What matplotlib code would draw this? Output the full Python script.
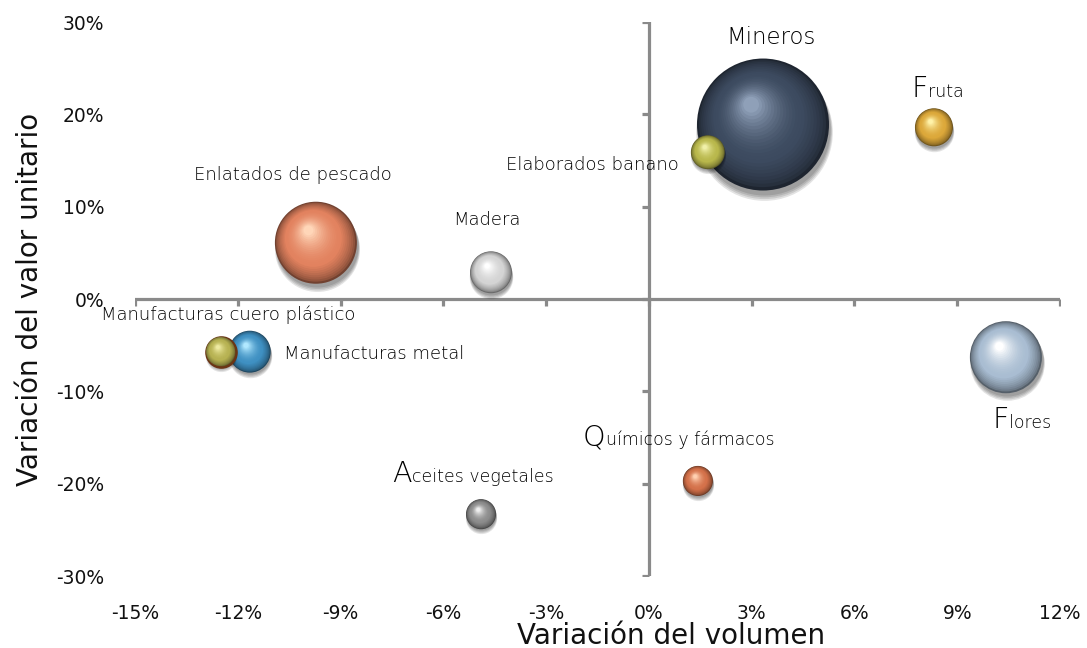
import numpy as np
import matplotlib
matplotlib.use('Agg')
import matplotlib.pyplot as plt
import matplotlib.transforms as mtransforms
from matplotlib.colors import to_rgb
from matplotlib.lines import TICKDOWN, TICKLEFT

plt.rcParams['font.family'] = ['DejaVu Sans']

# data (% change)
names = ['Mineros', 'Elaborados banano', 'Fruta', 'Enlatados de pescado', 'Madera',
         'Manufacturas metal', 'Manufacturas cuero plástico', 'Aceites vegetales',
         'Químicos y fármacos', 'Flores']
vol_var = [3.33, 1.72, 8.32, -9.72, -4.61, -11.65, -12.5, -4.9, 1.43, 10.42]
val_var = [18.9, 15.9, 18.6, 6.1, 2.9, -5.7, -5.7, -23.3, -19.7, -6.3]
bubble_size = [100, 6.6, 8.3, 38.6, 10.1, 10.1, 5.2, 5.2, 5.2, 29.8]

colors = ['#3c4a5f', '#b9b84c', '#dca83a', '#e2825f', '#d4d4d4',
          '#3f90c2', '#b7b252', '#8c8c8c', '#d4714a', '#a9bdd2']
highlights = ['#8fa0b8', '#f0f0a8', '#fff2a8', '#ffd6b8', '#ffffff',
              '#b0e8ff', '#eeeaa0', '#eeeeee', '#ffcfb0', '#ffffff']
rims = [None, None, None, None, None, None, '#6b3515', None, None, None]

# label placement: offset (px), alignment, big first letter
lab_off = [(8, 87), (-29, -13), (-22, 30), (-23, 68), (-4, 52),
           (34, -2), (8, 37), (-89, 32), (-115, 35), (-13, -71)]
lab_ha = ['center', 'right', 'left', 'center', 'center', 'left', 'center', 'left', 'left', 'left']
lab_va = ['center', 'center', 'baseline', 'center', 'center', 'center', 'center', 'baseline', 'baseline', 'baseline']
lab_size = [16.5, 13, 12.5, 13, 13, 13, 13, 12.5, 12.5, 12.5]
big_first = [False, False, True, False, False, False, False, True, True, True]

xticks = [-15, -12, -9, -6, -3, 0, 3, 6, 9, 12]
yticks = [-30, -20, -10, 0, 10, 20, 30]

fig = plt.figure(figsize=(10.87, 6.48), dpi=100)
ax = fig.add_axes([0.1242, 0.111, 0.851, 0.855])
ax.set_xlim(-15, 12)
ax.set_ylim(-30, 30)
for s in ax.spines.values():
    s.set_visible(False)

axcol = '#8a8a8a'
ax.axhline(0, color=axcol, lw=2.3, zorder=1)
ax.axvline(0, color=axcol, lw=2.3, zorder=1)
ax.plot(xticks, [0]*len(xticks), ls='', marker=TICKDOWN, ms=5, mew=2.3, color=axcol, zorder=1)
ax.plot([0]*len(yticks), yticks, ls='', marker=TICKLEFT, ms=5, mew=2.3, color=axcol, zorder=1)

ax.set_xticks(xticks)
ax.set_xticklabels([f'{t}%' for t in xticks])
ax.set_yticks(yticks)
ax.set_yticklabels([f'{t}%' for t in yticks])
ax.tick_params(length=0, labelsize=13.5, colors='#111111')
ax.tick_params(axis='x', pad=20)
ax.tick_params(axis='y', pad=22)

ax.set_xlabel('Variación del volumen', fontsize=20, color='#111111')
ax.xaxis.set_label_coords(0.579, -0.108)
ax.xaxis.label.set_va('center')
ax.set_ylabel('Variación del valor unitario', fontsize=20, color='#111111')
ax.yaxis.set_label_coords(-0.1135, 0.5)
ax.yaxis.label.set_va('center')

# spheres
nlay = 24
for i in range(len(names)):
    r = 66 * np.sqrt(bubble_size[i] / 100.0)   # radius in px
    base = np.array(to_rgb(colors[i]))
    hi = np.array(to_rgb(highlights[i]))
    edge = base * 0.5
    z = 3 + i
    # shadow
    for k in range(4):
        tr = mtransforms.offset_copy(ax.transData, fig=fig, x=r*0.02, y=-r*0.07 - k, units='dots')
        ax.scatter([vol_var[i]], [val_var[i]], s=(2*(r*(1.0 + 0.012*k))*0.72)**2,
                   color='black', alpha=0.11, lw=0, transform=tr, zorder=z)
    for k in range(nlay):
        t = k / (nlay - 1)
        rk = r * (1 - 0.88*t)
        ox, oy = -0.18*r*t, 0.3*r*t
        if t < 0.35:
            c = edge + (base - edge) * (t / 0.35)**0.6
        else:
            c = base + (hi - base) * ((t - 0.35) / 0.65)**1.8
        tr = mtransforms.offset_copy(ax.transData, fig=fig, x=ox, y=oy, units='dots')
        ec = rims[i] if (k == 0 and rims[i]) else 'none'
        ax.scatter([vol_var[i]], [val_var[i]], s=(2*rk*0.72)**2, color=np.clip(c, 0, 1),
                   edgecolors=ec, linewidths=1.8 if ec != 'none' else 0,
                   transform=tr, zorder=z)

# labels
for i in range(len(names)):
    txt = names[i]
    kw = dict(textcoords='offset pixels', color='#000000', fontweight='light', zorder=20)
    if big_first[i]:
        big = lab_size[i] * 1.65
        first = ax.annotate(txt[0], (vol_var[i], val_var[i]), xytext=lab_off[i],
                            ha='left', va='baseline', fontsize=big, **kw)
        ax.annotate(txt[1:], xy=(1, 0), xycoords=first, xytext=(0, (big - lab_size[i])*0.236),
                    textcoords='offset points', ha='left', va='bottom',
                    fontsize=lab_size[i], color='#000000', fontweight='light', zorder=20)
    else:
        ax.annotate(txt, (vol_var[i], val_var[i]), xytext=lab_off[i],
                    ha=lab_ha[i], va=lab_va[i], fontsize=lab_size[i], **kw)

fig.savefig('out.png', dpi=100)
